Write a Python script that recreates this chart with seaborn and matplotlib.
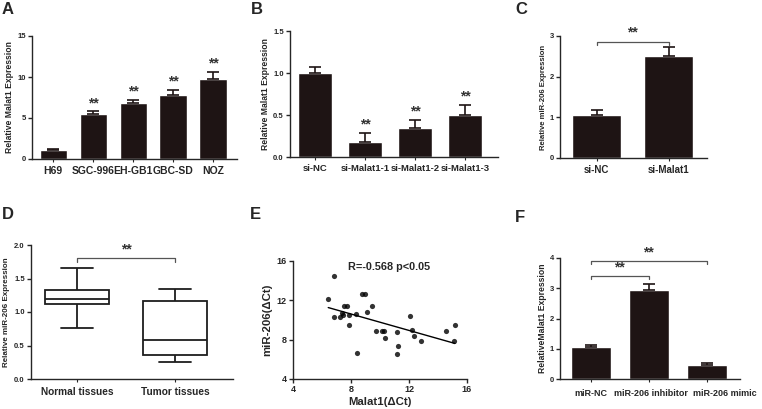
"""
Malat1 / miR-206 expression panels (A-F)
"""
import numpy as np
import pandas as pd
import matplotlib
matplotlib.use('Agg')
import matplotlib.pyplot as plt
import matplotlib.transforms as mtransforms
import seaborn as sns

sns.set_style('ticks')
plt.rcParams['font.family'] = ['Liberation Sans', 'DejaVu Sans']
plt.rcParams['font.weight'] = 'bold'
plt.rcParams['axes.labelweight'] = 'bold'
plt.rcParams['axes.linewidth'] = 1.0

BAR = '#1e1414'

# A - cell lines
a_labels = ['H69', 'SGC-996', 'EH-GB1', 'GBC-SD', 'NOZ']
a_values = [1.1, 5.5, 6.8, 7.8, 9.8]
a_err = [0.1, 0.3, 0.4, 0.6, 0.8]
a_sig = ['', '**', '**', '**', '**']

# B - siRNA knockdown
b_labels = ['si-NC', 'si-Malat1-1', 'si-Malat1-2', 'si-Malat1-3']
b_values = [1.0, 0.18, 0.35, 0.50]
b_err = [0.07, 0.11, 0.09, 0.12]
b_sig = ['', '**', '**', '**']

# C - miR-206 after knockdown
c_labels = ['si-NC', 'si-Malat1']
c_values = [1.05, 2.5]
c_err = [0.13, 0.22]

# D - tissues (low whisker, Q1, median, Q3, high whisker)
d_groups = ['Normal tissues', 'Tumor tissues']
d_normal = [0.76, 1.12, 1.20, 1.33, 1.66]
d_tumor = [0.25, 0.36, 0.58, 1.16, 1.35]

# E - correlation
e_malat1 = [6.43, 6.84, 6.84, 7.25, 7.43, 7.39, 7.55, 7.71, 7.85, 7.85, 8.35, 8.44,
            8.76, 8.95, 9.13, 9.45, 9.72, 10.14, 10.27, 10.34, 11.14, 11.14, 11.26,
            12.06, 12.2, 12.36, 12.86, 14.58, 15.08, 15.17]
e_mir206 = [12.14, 14.5, 10.34, 10.34, 10.5, 10.7, 11.4, 11.4, 10.5, 9.5, 10.6, 6.6,
            12.6, 12.6, 10.8, 11.4, 8.9, 8.9, 8.85, 8.2, 8.8, 6.54, 7.4,
            10.4, 9.0, 8.4, 7.9, 8.9, 7.9, 9.5]

# F - miR-206 inhibitor / mimic
f_labels = ['miR-NC', 'miR-206 inhibitor', 'miR-206 mimic']
f_values = [1.05, 2.95, 0.45]
f_err = [0.08, 0.20, 0.07]

W, H = 762, 409
fig = plt.figure(figsize=(W / 100, H / 100), dpi=100)


def add_ax(x0, y_top, x1, y_bot):
    return fig.add_axes([x0 / W, 1 - y_bot / H, (x1 - x0) / W, (y_bot - y_top) / H])


def bar_panel(ax, labels, values, err, width, xlim, ylim, yticks, ylabel, sig=None,
              ylab_fs=6, xtick_fs=7):
    df = pd.DataFrame({'group': labels, 'value': values})
    sns.barplot(data=df, x='group', y='value', color=BAR, width=width,
                saturation=1, errorbar=None, ax=ax)
    x = np.arange(len(labels))
    ax.errorbar(x, values, yerr=[np.zeros(len(err)), err], fmt='none',
                ecolor=BAR, elinewidth=1.2, capsize=4, capthick=1.2)
    if sig:
        span = ylim[1] - ylim[0]
        for xi, v, e, s in zip(x, values, err, sig):
            if s:
                ax.text(xi, v + e + span * 0.01, s, ha='center', va='bottom',
                        fontsize=10, color='#333333')
    ax.set_xlim(*xlim)
    ax.set_ylim(*ylim)
    ax.set_yticks(yticks)
    ax.set_xlabel('')
    ax.set_ylabel(ylabel, fontsize=ylab_fs, labelpad=2)
    ax.tick_params(axis='y', labelsize=5.5, length=3, width=1, pad=1.5)
    ax.tick_params(axis='x', labelsize=xtick_fs, length=2, pad=3)
    sns.despine(ax=ax)


def bracket(ax, x0, x1, y, drop, text, ty):
    ax.plot([x0, x0, x1, x1], [y - drop, y, y, y - drop], color='#555555', lw=0.9,
            clip_on=False)
    ax.text((x0 + x1) / 2, ty, text, ha='center', va='bottom', fontsize=10,
            color='#333333', clip_on=False)


# A
axA = add_ax(32, 36, 237, 159)
bar_panel(axA, a_labels, a_values, a_err, 0.68, (-0.53, 4.6), (0, 15), [0, 5, 10, 15],
          'Relative Malat1 Expression', a_sig, ylab_fs=6.2, xtick_fs=7.5)

# B
axB = add_ax(290, 31, 498, 157)
bar_panel(axB, b_labels, b_values, b_err, 0.67, (-0.5, 3.66), (0, 1.5), [0.0, 0.5, 1.0, 1.5],
          'Relative Malat1 Expression', b_sig, ylab_fs=6.2, xtick_fs=6.8)
axB.set_yticklabels(['0.0', '0.5', '1.0', '1.5'])

# C
axC = add_ax(560, 36, 707, 158)
bar_panel(axC, c_labels, c_values, c_err, 0.68, (-0.51, 1.53), (0, 3), [0, 1, 2, 3],
          'Relative miR-206 Expression', ylab_fs=5.6, xtick_fs=7)
bracket(axC, 0, 1, 2.86, 0.08, '**', 2.92)

# D
axD = add_ax(31, 245, 233, 379)
d_df = pd.DataFrame({'group': np.repeat(d_groups, 5), 'value': d_normal + d_tumor})
sns.boxplot(data=d_df, x='group', y='value', whis=(0, 100), width=0.65, color='white',
            linecolor='#1e1e1e', linewidth=1.3, ax=axD)
axD.set_xlim(-0.47, 1.59)
axD.set_ylim(0, 2.0)
axD.set_yticks([0.0, 0.5, 1.0, 1.5, 2.0])
axD.set_yticklabels(['0.0', '0.5', '1.0', '1.5', '2.0'])
axD.set_xlabel('')
axD.set_ylabel('Relative miR-206 Expression', fontsize=5.8, labelpad=3)
axD.tick_params(axis='y', labelsize=5.5, length=3, width=1, pad=1.5)
axD.tick_params(axis='x', labelsize=7.3, length=2)
sns.despine(ax=axD)
bracket(axD, 0, 1, 1.8, 0.05, '**', 1.83)

# E
axE = add_ax(293, 261, 467, 379)
sns.regplot(x=e_malat1, y=e_mir206, ci=None, color='black',
            scatter_kws={'s': 14, 'linewidths': 0},
            line_kws={'lw': 1.0}, ax=axE)
axE.set_xlim(4, 16)
axE.set_ylim(4, 16)
axE.set_xticks([4, 8, 12, 16])
axE.set_yticks([4, 8, 12, 16])
axE.set_xlabel('Malat1(\u0394Ct)', fontsize=8.2, labelpad=2)
axE.set_ylabel('miR-206(\u0394Ct)', fontsize=8.2, labelpad=3)
axE.tick_params(axis='both', labelsize=6.5, length=3, width=1, pad=1.5)
axE.text(10.6, 14.9, 'R=-0.568 p<0.05', ha='center', va='bottom', fontsize=7.8)
sns.despine(ax=axE)

# F
axF = add_ax(560, 258, 740, 379)
bar_panel(axF, f_labels, f_values, f_err, 0.69, (-0.53, 2.57), (0, 4), [0, 1, 2, 3, 4],
          'RelativeMalat1 Expression', ylab_fs=6.2, xtick_fs=6.5)
axF.tick_params(axis='x', pad=5)
# the reference spreads the long tick labels apart
for lab, dx in zip(axF.get_xticklabels(), [0, 2, 18]):
    lab.set_transform(lab.get_transform() +
                      mtransforms.ScaledTranslation(dx / 100, 0, fig.dpi_scale_trans))
bracket(axF, 0, 1, 3.4, 0.1, '**', 3.45)
bracket(axF, 0, 2, 3.9, 0.1, '**', 3.95)

# panel letters
for lbl, (px, py) in zip('ABCDEF', [(2, 2), (251, 2), (515, 2), (2, 207), (250, 207), (515, 210)]):
    fig.text(px / W, 1 - py / H, lbl, fontsize=12, fontweight='bold', va='top', ha='left')

plt.savefig('out.png', dpi=100)
